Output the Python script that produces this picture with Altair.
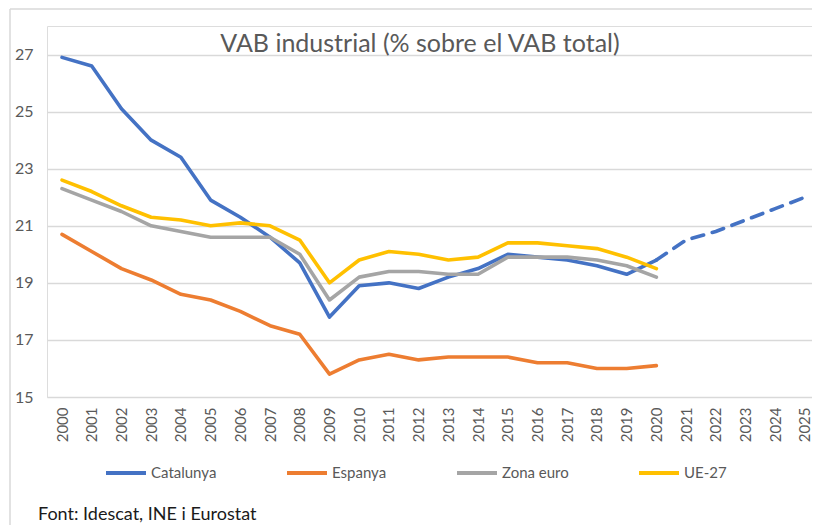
import altair as alt
import pandas as pd

years = list(range(2000, 2021))
catalunya = [26.9, 26.6, 25.1, 24.0, 23.4, 21.9, 21.3, 20.6, 19.7, 17.8, 18.9,
             19.0, 18.8, 19.2, 19.5, 20.0, 19.9, 19.8, 19.6, 19.3, 19.8]
espanya = [20.7, 20.1, 19.5, 19.1, 18.6, 18.4, 18.0, 17.5, 17.2, 15.8, 16.3,
           16.5, 16.3, 16.4, 16.4, 16.4, 16.2, 16.2, 16.0, 16.0, 16.1]
zona_euro = [22.3, 21.9, 21.5, 21.0, 20.8, 20.6, 20.6, 20.6, 20.0, 18.4, 19.2,
             19.4, 19.4, 19.3, 19.3, 19.9, 19.9, 19.9, 19.8, 19.6, 19.2]
ue27 = [22.6, 22.2, 21.7, 21.3, 21.2, 21.0, 21.1, 21.0, 20.5, 19.0, 19.8,
        20.1, 20.0, 19.8, 19.9, 20.4, 20.4, 20.3, 20.2, 19.9, 19.5]

proj_years = [2020, 2021, 2022, 2023, 2024, 2025]
proj_catalunya = [19.8, 20.5, 20.8, 21.2, 21.6, 22.0]

series_names = ["Catalunya", "Espanya", "Zona euro", "UE-27"]
series_colors = ["#4472C4", "#ED7D31", "#A5A5A5", "#FFC000"]
x_ticks = list(range(2000, 2026))
y_ticks = [15, 17, 19, 21, 23, 25, 27]

title_text = "VAB industrial (% sobre el VAB total)"
source_text = "Font: Idescat, INE i Eurostat"

FONT = "Lato"
GREY_TXT = "#595959"

rows = []
for name, vals in zip(series_names, [catalunya, espanya, zona_euro, ue27]):
    for y, v in zip(years, vals):
        rows.append({"any": y, "valor": v, "serie": name})
df = pd.DataFrame(rows)
df_proj = pd.DataFrame({"any": proj_years, "valor": proj_catalunya})

x_scale = alt.Scale(domain=[1999.495, 2025.236], nice=False, zero=False)
y_scale = alt.Scale(domain=[15, 28], nice=False, zero=False)
color_scale = alt.Scale(domain=series_names, range=series_colors)

x_axis = alt.Axis(values=x_ticks, format="d", labelAngle=270, labelAlign="right",
                  labelBaseline="middle", labelPadding=10, domain=False, ticks=False,
                  grid=False, title=None, labelFont=FONT, labelFontSize=15,
                  labelColor=GREY_TXT, labelOverlap=False, labelFlush=False,
                  labelBound=False)
y_axis = alt.Axis(values=y_ticks, domain=False, ticks=False, grid=True,
                  gridColor="#d9d9d9", gridWidth=1.4, title=None,
                  labelFont=FONT, labelFontSize=16, labelColor=GREY_TXT,
                  labelPadding=14)

lines = alt.Chart(df).mark_line(strokeWidth=3.6, strokeJoin="round", strokeCap="round").encode(
    x=alt.X("any:Q", scale=x_scale, axis=x_axis),
    y=alt.Y("valor:Q", scale=y_scale, axis=y_axis),
    color=alt.Color("serie:N", scale=color_scale, sort=series_names,
                    legend=alt.Legend(title=None, orient="none", legendX=57, legendY=425,
                                      direction="horizontal", symbolType="stroke",
                                      symbolStrokeWidth=4, symbolSize=1600,
                                      labelFont=FONT, labelFontSize=15, labelColor=GREY_TXT,
                                      labelOffset=3, columnPadding=62, padding=0)),
    order=alt.Order("any:Q"),
)

proj = alt.Chart(df_proj).mark_line(strokeWidth=3.6, strokeDash=[12, 9], strokeCap="round",
                                    color=series_colors[0]).encode(
    x=alt.X("any:Q", scale=x_scale, axis=x_axis),
    y=alt.Y("valor:Q", scale=y_scale, axis=y_axis),
)

title = alt.Chart(pd.DataFrame({"t": [title_text]})).mark_text(
    font=FONT, fontSize=25, color=GREY_TXT, align="center", baseline="alphabetic"
).encode(text="t:N", x=alt.value(373), y=alt.value(25.5))

source = alt.Chart(pd.DataFrame({"t": [source_text]})).mark_text(
    font=FONT, fontSize=18, color="#1a1a1a", align="left", baseline="alphabetic"
).encode(text="t:N", x=alt.value(-9), y=alt.value(494))

border_top = alt.Chart(pd.DataFrame({"a": [0]})).mark_rule(color="#d9d9d9", strokeWidth=1.5).encode(
    x=alt.value(-37), x2=alt.value(765), y=alt.value(-17)
)
border_left = alt.Chart(pd.DataFrame({"a": [0]})).mark_rule(color="#d9d9d9", strokeWidth=1.5).encode(
    x=alt.value(-37), y=alt.value(-17), y2=alt.value(510)
)

chart = alt.layer(border_top, border_left, lines, proj, title, source).properties(
    width=765, height=371,
    autosize=alt.AutoSizeParams(type="none"),
    padding={"left": 39, "top": 18, "right": 0, "bottom": 128},
).configure_view(stroke=None).configure(background="white")

chart.save("out.html", embed_options={"renderer": "svg", "actions": False})
